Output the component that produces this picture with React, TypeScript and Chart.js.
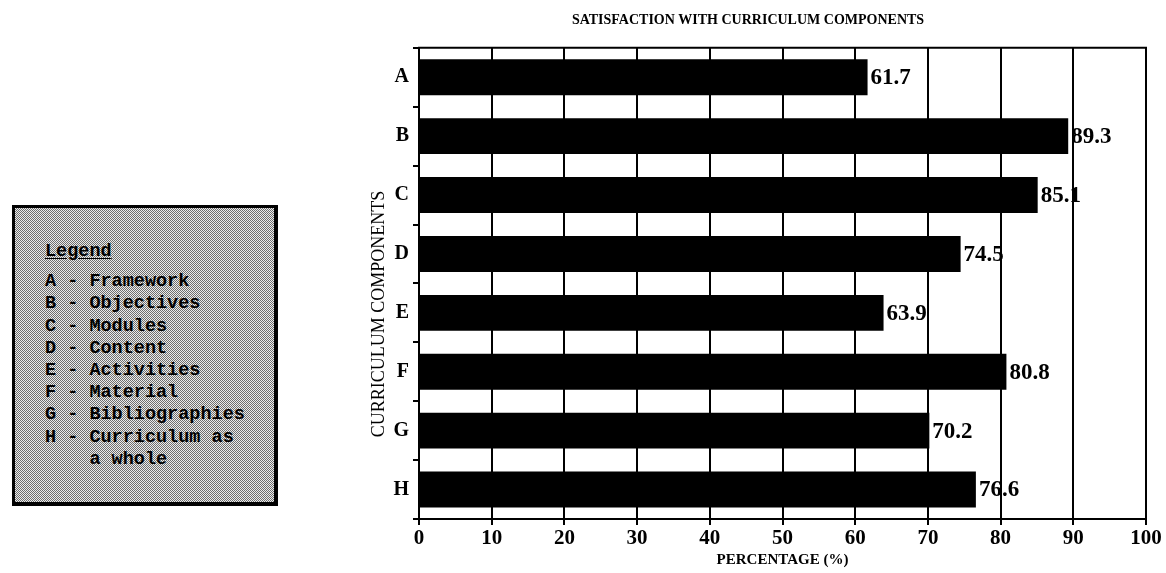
import React, { useEffect, useRef } from "react";
import { Chart, registerables } from "chart.js";

Chart.register(...registerables);

const chartTitle = "SATISFACTION WITH CURRICULUM COMPONENTS";
const categories = ["A", "B", "C", "D", "E", "F", "G", "H"];
const values = [61.7, 89.3, 85.1, 74.5, 63.9, 80.8, 70.2, 76.6];
const xMin = 0;
const xMax = 100;
const xStep = 10;
const xAxisTitle = "PERCENTAGE (%)";
const yAxisTitle = "CURRICULUM COMPONENTS";
const legendHeading = "Legend";
const legendCodes = ["A", "B", "C", "D", "E", "F", "G", "H"];
const legendNames = [
  "Framework",
  "Objectives",
  "Modules",
  "Content",
  "Activities",
  "Material",
  "Bibliographies",
  "Curriculum as",
];
const legendContinuation = "a whole";

const SERIF = '"Liberation Serif", "Times New Roman", serif';

const overlayPlugin = {
  id: "overlay",
  afterDatasetsDraw(chart: any) {
    const ctx = chart.ctx;
    const meta = chart.getDatasetMeta(0);
    const { left, right, top } = chart.chartArea;
    ctx.save();
    // value labels
    ctx.font = `bold 23px ${SERIF}`;
    ctx.fillStyle = "#000";
    ctx.textAlign = "left";
    ctx.textBaseline = "middle";
    meta.data.forEach((bar: any, i: number) => {
      ctx.fillText(values[i].toFixed(1), bar.x + 3, bar.y + 1);
    });
    // top border of plot
    ctx.strokeStyle = "#000";
    ctx.lineWidth = 2;
    ctx.beginPath();
    ctx.moveTo(left - 1, top);
    ctx.lineTo(right + 1, top);
    ctx.stroke();
    // y axis title
    ctx.translate(29, 314);
    ctx.rotate(-Math.PI / 2);
    ctx.font = `18px ${SERIF}`;
    ctx.textAlign = "center";
    ctx.textBaseline = "middle";
    ctx.fillText(yAxisTitle, 0, 0);
    ctx.restore();
  },
};

function BarChart() {
  const ref = useRef<HTMLCanvasElement | null>(null);
  useEffect(() => {
    if (!ref.current) return;
    const chart = new Chart(ref.current, {
      type: "bar",
      data: {
        labels: categories,
        datasets: [
          {
            data: values,
            backgroundColor: "#000",
            borderWidth: 0,
            barPercentage: 0.61,
            categoryPercentage: 1,
          },
        ],
      },
      options: {
        indexAxis: "y",
        responsive: false,
        animation: false,
        layout: { padding: { left: 0, right: 60, top: 0, bottom: 4 } },
        plugins: {
          legend: { display: false },
          tooltip: { enabled: false },
          title: {
            display: true,
            text: chartTitle,
            color: "#000",
            font: { family: SERIF, size: 14, weight: "bold" },
            padding: { top: 12, bottom: 19 },
          },
        },
        scales: {
          x: {
            type: "linear",
            min: xMin,
            max: xMax,
            ticks: {
              stepSize: xStep,
              color: "#000",
              font: { family: SERIF, size: 21, weight: "bold" },
              padding: 1,
            },
            grid: { color: "#000", lineWidth: 2, tickLength: 6, drawTicks: true },
            border: { color: "#000", width: 2 },
            title: {
              display: true,
              text: xAxisTitle,
              color: "#000",
              font: { family: SERIF, size: 15, weight: "bold" },
              padding: { top: 0, bottom: 0 },
            },
            afterFit: (s: any) => {
              s.height = 50;
            },
          },
          y: {
            type: "category",
            ticks: {
              color: "#000",
              font: { family: SERIF, size: 20, weight: "bold" },
              padding: 4,
            },
            grid: {
              display: true,
              drawOnChartArea: false,
              drawTicks: true,
              tickLength: 6,
              color: "#000",
              lineWidth: 2,
              offset: true,
            },
            border: { color: "#000", width: 2 },
            afterFit: (s: any) => {
              s.width = 69;
            },
          },
        },
      } as any,
      plugins: [overlayPlugin],
    });
    return () => chart.destroy();
  }, []);
  return (
    <canvas
      ref={ref}
      width={856}
      height={573}
      style={{ position: "absolute", left: 350, top: 0, width: 856, height: 573 }}
    />
  );
}

export default function App() {
  const lineStyle: React.CSSProperties = { height: 22.2, lineHeight: "22.2px", whiteSpace: "pre" };
  return (
    <div
      style={{
        position: "fixed",
        left: 0,
        top: 0,
        width: 1166,
        height: 573,
        overflow: "hidden",
        background: "#fff",
      }}
    >
      <div
        style={{
          position: "absolute",
          left: 12,
          top: 205,
          width: 259,
          height: 294,
          border: "3px solid #000",
          borderRightWidth: 4,
          borderBottomWidth: 4,
          background: "repeating-conic-gradient(#6e6e6e 0% 25%, #ececec 0% 50%) 0 0 / 2px 2px",
          fontFamily: '"Liberation Mono", "DejaVu Sans Mono", monospace',
          fontWeight: "bold",
          fontSize: 18.5,
          color: "#000",
          boxSizing: "content-box",
        }}
      >
        <div style={{ position: "absolute", left: 30, top: 33 }}>
          <div style={{ ...lineStyle, marginBottom: 8 }}>
            <span style={{ textDecoration: "underline", textUnderlineOffset: 2 }}>{legendHeading}</span>
          </div>
          {legendCodes.map((c, i) => (
            <div key={c} style={lineStyle}>
              {`${c} - ${legendNames[i]}`}
            </div>
          ))}
          <div style={lineStyle}>{`    ${legendContinuation}`}</div>
        </div>
      </div>
      <BarChart />
    </div>
  );
}
